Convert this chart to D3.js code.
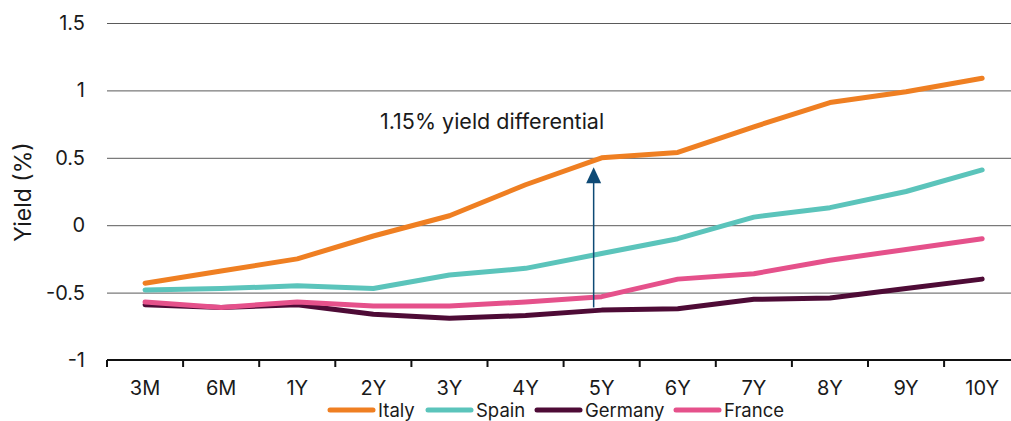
<!DOCTYPE html>
<html>
<head>
<meta charset="utf-8">
<script src="https://cdn.jsdelivr.net/npm/d3@7"></script>
<style>
  body { margin: 0; background: #fff; }
  text { font-family: Inter, "Noto Sans", sans-serif; fill: #1a1a1a; }
</style>
</head>
<body>
<div id="chart"></div>
<script>
// Tenors and yields (%)
var tenors  = ['3M', '6M', '1Y', '2Y', '3Y', '4Y', '5Y', '6Y', '7Y', '8Y', '9Y', '10Y'];
var italy   = [-0.43, -0.34, -0.25, -0.08, 0.07, 0.30, 0.50, 0.54, 0.73, 0.91, 0.99, 1.09];
var spain   = [-0.48, -0.47, -0.45, -0.47, -0.37, -0.32, -0.21, -0.10, 0.06, 0.13, 0.25, 0.41];
var germany = [-0.59, -0.61, -0.59, -0.66, -0.69, -0.67, -0.63, -0.62, -0.55, -0.54, -0.47, -0.40];
var france  = [-0.57, -0.61, -0.57, -0.60, -0.60, -0.57, -0.53, -0.40, -0.36, -0.26, -0.18, -0.10];
var yTicks  = [-1, -0.5, 0, 0.5, 1, 1.5];

// annotation: arrow at 5Y from Germany up towards Italy
var arrowTenor = '5Y';
var arrowFrom  = -0.61;
var arrowTo    = 0.43;
var arrowLabel = '1.15% yield differential';

var series = [
    { name: 'Italy',   values: italy,   colour: '#ef7f22' },
    { name: 'Spain',   values: spain,   colour: '#5bc4bb' },
    { name: 'Germany', values: germany, colour: '#4e0b36' },
    { name: 'France',  values: france,  colour: '#e5518b' }
];

var W = 1011, H = 421;
var margin = { top: 23, right: 0, bottom: 61, left: 107 };

var svg = d3.select('#chart')
            .append('svg')
            .attr('width', W)
            .attr('height', H);

var xScale = d3.scaleBand()
               .domain(tenors)
               .range([margin.left, margin.left + 12 * 76.1]);

var yScale = d3.scaleLinear()
               .domain([-1, 1.5])
               .range([H - margin.bottom, margin.top]);

function xc (t) { return xScale(t) + xScale.bandwidth() / 2; }

// horizontal grid lines
var yGrid = d3.axisLeft(yScale)
              .tickValues(yTicks)
              .tickSize(-(W - margin.left))
              .tickFormat('');

var gGrid = svg.append('g')
               .attr('transform', 'translate(' + margin.left + ',0)')
               .call(yGrid);
gGrid.select('.domain').remove();
gGrid.selectAll('line').attr('stroke', '#5a5a5a').attr('stroke-width', 1);

// y tick labels (plain hyphen for negatives, as in the original)
var yAxis = d3.axisLeft(yScale)
              .tickValues(yTicks)
              .tickSize(0)
              .tickPadding(22)
              .tickFormat(function (d) { return String(d); });

var gY = svg.append('g')
            .attr('transform', 'translate(' + margin.left + ',0)')
            .call(yAxis);
gY.select('.domain').remove();
gY.selectAll('text').style('font-size', '20px').style('fill', '#1a1a1a');

// x axis with tick marks between categories
var xAxis = d3.axisBottom(xScale)
              .tickSize(0)
              .tickPadding(21);

var gX = svg.append('g')
            .attr('transform', 'translate(0,' + yScale(-1) + ')')
            .call(xAxis);
gX.select('.domain').attr('stroke', '#111').attr('stroke-width', 2)
  .attr('d', 'M' + margin.left + ',0H' + W);
gX.selectAll('text').style('font-size', '20px').style('fill', '#1a1a1a');

svg.append('g')
   .selectAll('line')
   .data(tenors)
   .join('line')
   .attr('x1', function (d) { return xScale(d); })
   .attr('x2', function (d) { return xScale(d); })
   .attr('y1', yScale(-1))
   .attr('y2', yScale(-1) + 7)
   .attr('stroke', '#111')
   .attr('stroke-width', 2);

// y axis title
svg.append('text')
   .attr('transform', 'translate(31,192) rotate(-90)')
   .attr('text-anchor', 'middle')
   .style('font-size', '23px')
   .text('Yield (%)');

// lines
var line = d3.line()
             .x(function (d, i) { return xc(tenors[i]); })
             .y(function (d) { return yScale(d); });

// draw order: Germany first, so France and Spain sit on top of it
var drawOrder = [series[2], series[3], series[1], series[0]];

svg.append('g')
   .selectAll('path')
   .data(drawOrder)
   .join('path')
   .attr('d', function (d) { return line(d.values); })
   .attr('fill', 'none')
   .attr('stroke', function (d) { return d.colour; })
   .attr('stroke-width', 5)
   .attr('stroke-linecap', 'round')
   .attr('stroke-linejoin', 'round');

// arrow annotation
var ax = xc(arrowTenor) - 8;
var headLen = 16, headHalf = 7.5;
svg.append('line')
   .attr('x1', ax).attr('x2', ax)
   .attr('y1', yScale(arrowFrom))
   .attr('y2', yScale(arrowTo) + headLen - 2)
   .attr('stroke', '#0e4a75')
   .attr('stroke-width', 1.5);

svg.append('path')
   .attr('d', 'M' + ax + ',' + yScale(arrowTo) +
              'L' + (ax + headHalf) + ',' + (yScale(arrowTo) + headLen) +
              'L' + (ax - headHalf) + ',' + (yScale(arrowTo) + headLen) + 'Z')
   .attr('fill', '#0e4a75');

svg.append('text')
   .attr('x', 380)
   .attr('y', yScale(0.71))
   .style('font-size', '21.5px')
   .text(arrowLabel);

// legend
var legendX = [327, 425, 534, 673];
var lg = svg.append('g')
            .selectAll('g')
            .data(series)
            .join('g')
            .attr('transform', function (d, i) { return 'translate(' + legendX[i] + ',410)'; });

lg.append('line')
  .attr('x1', 3).attr('x2', 46)
  .attr('y1', 0).attr('y2', 0)
  .attr('stroke', function (d) { return d.colour; })
  .attr('stroke-width', 5)
  .attr('stroke-linecap', 'round');

lg.append('text')
  .attr('x', 51)
  .attr('y', 7)
  .style('font-size', '18.5px')
  .text(function (d) { return d.name; });
</script>
</body>
</html>
